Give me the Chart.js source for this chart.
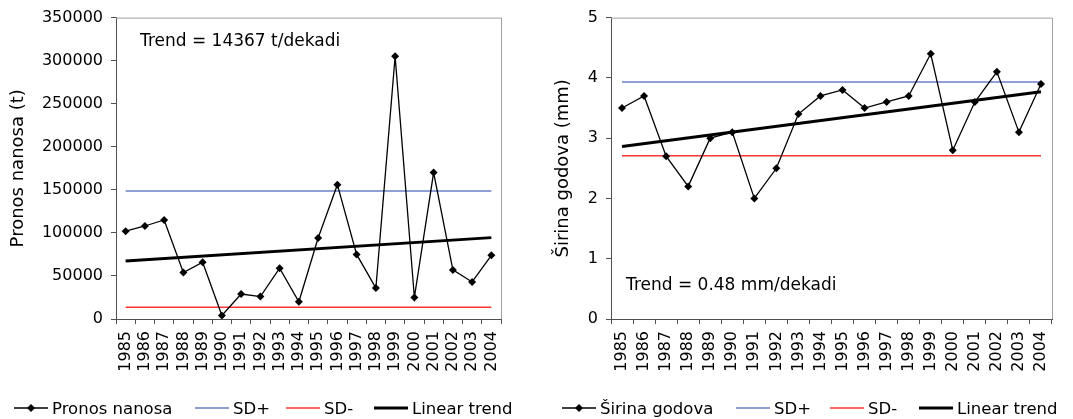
<!DOCTYPE html>
<html>
<head>
<meta charset="utf-8">
<script src="https://cdn.jsdelivr.net/npm/chart.js@4.4.1/dist/chart.umd.min.js"></script>
<style>
  html, body { margin: 0; padding: 0; background: #fff; }
  body { width: 1073px; height: 419px; position: relative; overflow: hidden; font-family: "DejaVu Sans", Verdana, sans-serif; }
  .wrap { position: absolute; top: 0; height: 419px; }
  .legend-item { position: absolute; top: 398px; height: 20px; display: flex; align-items: center; font-size: 16.5px; color: #000; white-space: nowrap; }
  .legend-item svg { display: block; margin-right: 4px; }
</style>
</head>
<body>
<div class="wrap" style="left:0;width:540px"><canvas id="c1" width="540" height="419"></canvas></div>
<div class="wrap" style="left:540px;width:533px"><canvas id="c2" width="533" height="419"></canvas></div>
<div id="legends"></div>
<script>
// ---------- DATA ----------
const years = ['1985','1986','1987','1988','1989','1990','1991','1992','1993','1994',
               '1995','1996','1997','1998','1999','2000','2001','2002','2003','2004'];

const pronosNanosa = [102000,108000,115000,54000,66000,4000,29000,26000,59000,20000,
                      94000,156000,75000,36000,305000,25000,170000,57000,43000,74000];
const pronosSdPlus = 148500;
const pronosSdMinus = 13500;
const pronosTrendEnds = [67300, 94500];
const pronosTicks = [0,50000,100000,150000,200000,250000,300000,350000];

const sirinaGodova = [3.5,3.7,2.7,2.2,3.0,3.1,2.0,2.5,3.4,3.7,
                      3.8,3.5,3.6,3.7,4.4,2.8,3.6,4.1,3.1,3.9];
const sirinaSdPlus = 3.93;
const sirinaSdMinus = 2.71;
const sirinaTrendEnds = [2.86, 3.77];
const sirinaTicks = [0,1,2,3,4,5];

const legendLabelsLeft = ['Pronos nanosa','SD+','SD-','Linear trend'];
const legendLabelsRight = ['Širina godova','SD+','SD-','Linear trend'];
const trendTextLeft = 'Trend = 14367 t/dekadi';
const trendTextRight = 'Trend = 0.48 mm/dekadi';
const yTitleLeft = 'Pronos nanosa (t)';
const yTitleRight = 'Širina godova (mm)';

// ---------- STYLE ----------
const FONT = '"DejaVu Sans", Verdana, sans-serif';
const BLUE = '#6b7fc7';
const RED = '#ff3333';
const AXIS = '#505050';
const FRAME = '#a0a0a0';

const framePlugin = {
  id: 'frame',
  afterDraw(chart, args, opts) {
    const {ctx, chartArea: a} = chart;
    ctx.save();
    ctx.strokeStyle = FRAME;
    ctx.lineWidth = 1;
    ctx.beginPath();
    ctx.moveTo(a.left, a.top + 0.5);
    ctx.lineTo(a.right + 0.5, a.top + 0.5);
    ctx.lineTo(a.right + 0.5, a.bottom);
    ctx.stroke();
    ctx.fillStyle = '#000';
    ctx.font = '17px ' + FONT;
    ctx.textBaseline = 'alphabetic';
    ctx.textAlign = 'left';
    ctx.fillText(opts.text, opts.x, opts.y);
    ctx.restore();
  }
};

function makeChart(id, cfg) {
  const n = years.length;
  const trend = years.map((_, i) => i === 0 ? cfg.trend[0] : (i === n - 1 ? cfg.trend[1] : null));
  return new Chart(document.getElementById(id), {
    type: 'line',
    data: {
      labels: years,
      datasets: [
        { label: cfg.names[0], data: cfg.values, borderColor: '#000', backgroundColor: '#000',
          borderWidth: 1.3, pointStyle: 'rectRot', pointRadius: 4, pointBorderWidth: 0, tension: 0 },
        { label: cfg.names[3], data: trend, borderColor: '#000', borderWidth: 3, pointRadius: 0, spanGaps: true },
        { label: cfg.names[1], data: years.map(() => cfg.sdPlus), borderColor: BLUE, borderWidth: 1.5, pointRadius: 0 },
        { label: cfg.names[2], data: years.map(() => cfg.sdMinus), borderColor: RED, borderWidth: 1.5, pointRadius: 0 }
      ]
    },
    options: {
      responsive: false,
      animation: false,
      devicePixelRatio: 1,
      layout: { padding: { left: 0, top: cfg.top, right: cfg.right, bottom: 30 } },
      plugins: {
        legend: { display: false },
        tooltip: { enabled: false },
        frame: { text: cfg.text, x: cfg.textX, y: cfg.textY }
      },
      scales: {
        x: {
          type: 'category',
          offset: true,
          grid: { display: true, offset: true, drawOnChartArea: false, drawTicks: true, tickLength: 5, color: AXIS },
          border: { display: true, color: AXIS, width: 1 },
          ticks: { autoSkip: false, minRotation: 90, maxRotation: 90, padding: 7, color: '#000',
                   font: { family: FONT, size: 16 } },
          afterFit(scale) { scale.height = 70; }
        },
        y: {
          min: cfg.ticks[0],
          max: cfg.ticks[cfg.ticks.length - 1],
          afterBuildTicks(scale) { scale.ticks = cfg.ticks.map(v => ({ value: v })); },
          grid: { display: true, drawOnChartArea: false, drawTicks: true, tickLength: 5, color: AXIS },
          border: { display: true, color: AXIS, width: 1 },
          ticks: { padding: 8, color: '#000', font: { family: FONT, size: 16 },
                   callback: v => String(v) },
          title: { display: true, text: cfg.yTitle, color: '#000', font: { family: FONT, size: 18 },
                   padding: { top: cfg.titlePad, bottom: 0 } },
          afterFit(scale) { scale.width = cfg.yWidth; }
        }
      }
    },
    plugins: [framePlugin]
  });
}

makeChart('c1', {
  values: pronosNanosa, sdPlus: pronosSdPlus, sdMinus: pronosSdMinus, trend: pronosTrendEnds,
  ticks: pronosTicks, names: legendLabelsLeft, yTitle: yTitleLeft,
  top: 15, right: 39, yWidth: 116, titlePad: 7.5,
  text: trendTextLeft, textX: 140, textY: 46
});
makeChart('c2', {
  values: sirinaGodova, sdPlus: sirinaSdPlus, sdMinus: sirinaSdMinus, trend: sirinaTrendEnds,
  ticks: sirinaTicks, names: legendLabelsRight, yTitle: yTitleRight,
  top: 17, right: 21, yWidth: 71, titlePad: 13,
  text: trendTextRight, textX: 86, textY: 290
});

// ---------- LEGENDS (HTML) ----------
function sample(kind) {
  const w = 34;
  if (kind === 0) {
    return `<svg width="${w}" height="10"><line x1="0" y1="5" x2="${w}" y2="5" stroke="#000" stroke-width="1.3"/><polygon points="${w/2},1 ${w/2+4},5 ${w/2},9 ${w/2-4},5" fill="#000"/></svg>`;
  }
  const col = kind === 1 ? BLUE : kind === 2 ? RED : '#000';
  const sw = kind === 3 ? 3 : 1.5;
  return `<svg width="${w}" height="10"><line x1="0" y1="5" x2="${w}" y2="5" stroke="${col}" stroke-width="${sw}"/></svg>`;
}
function buildLegend(labels, xs) {
  const host = document.getElementById('legends');
  labels.forEach((lab, i) => {
    const d = document.createElement('div');
    d.className = 'legend-item';
    d.style.left = xs[i] + 'px';
    d.innerHTML = sample(i) + '<span></span>';
    d.querySelector('span').textContent = lab;
    host.appendChild(d);
  });
}
buildLegend(legendLabelsLeft, [14, 195, 286, 374]);
buildLegend(legendLabelsRight, [562, 736, 830, 919]);
</script>
</body>
</html>
